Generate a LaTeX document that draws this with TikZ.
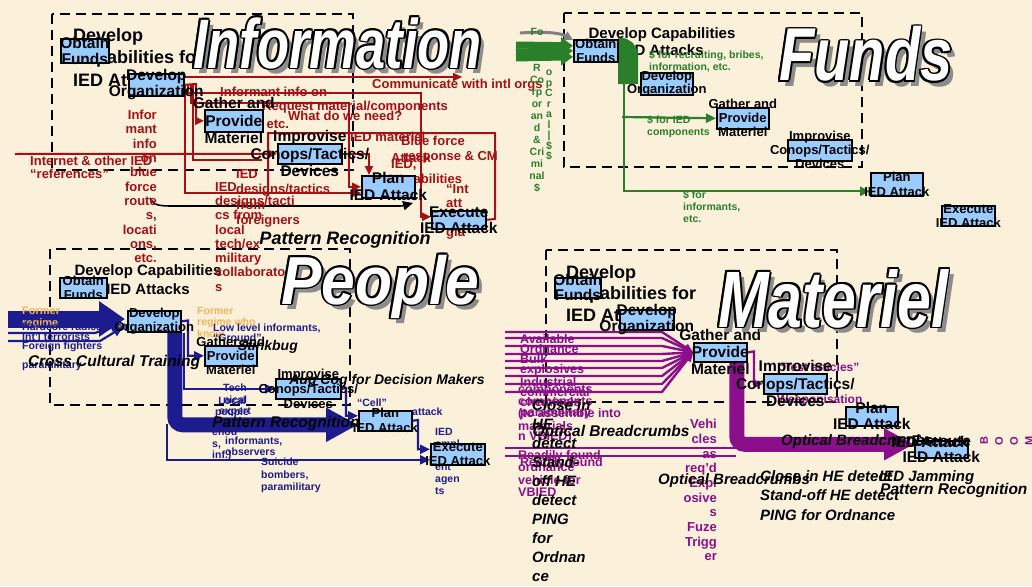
\documentclass[tikz,border=0pt]{standalone}
\usepackage{fontspec}
\setmainfont{Liberation Sans}
\usetikzlibrary{arrows.meta}
\definecolor{bgc}{HTML}{FBF1DA}
\definecolor{boxblue}{HTML}{99CCFF}
\definecolor{ired}{HTML}{A50F15}
\definecolor{fgreen}{HTML}{2A7F2A}
\definecolor{pnavy}{HTML}{1C1C8F}
\definecolor{mpurple}{HTML}{8B0F8B}
\definecolor{orng}{HTML}{F2B457}
\definecolor{shgray}{HTML}{8C8C8C}
\pgfdeclarelayer{back}
\pgfdeclarelayer{conn}
\pgfsetlayers{back,conn,main}
\tikzset{
  blk/.style={draw=black, line width=1.6pt, fill=boxblue, inner sep=0pt, anchor=north west},
  btxt/.style={align=center, inner sep=0pt, text=black},
  ttlfont/.style={font=\bfseries\itshape\fontsize{#1}{#1}\selectfont, inner sep=0pt},
  dashbox/.style={draw=black, line width=2.2pt, dash pattern=on 10pt off 6pt},
  hdr/.style={inner sep=0pt, text=black},
  lab/.style={inner sep=0pt, font=\bfseries\fontsize{#1}{#1}\selectfont},
  bi/.style={inner sep=0pt, text=black, font=\bfseries\itshape\fontsize{#1}{#1}\selectfont},
  rl/.style={draw=ired, line width=2pt},
  ra/.style={rl, -{Triangle[length=9pt,width=8pt]}},
  gl/.style={draw=fgreen, line width=2.2pt},
  ga/.style={gl, -{Triangle[length=10pt,width=9pt]}},
  nl/.style={draw=pnavy, line width=2.2pt},
  na/.style={nl, -{Triangle[length=10pt,width=9pt]}},
  ml/.style={draw=mpurple, line width=2.4pt},
  ma/.style={ml, -{Triangle[length=9pt,width=8pt]}},
}
\newcommand\bx[8]{%
  \node[blk, minimum width=#4pt, minimum height=#5pt] (#1) at (#2,#3) {};
  \node[btxt, font=\bfseries\fontsize{#6}{#7}\selectfont] (#1t) at (#1.center) {#8};}
\newcommand\ttl[6]{%
  \node[ttlfont={#4}, text=shgray, xscale=#5, anchor=base west] (#1s) at (#2+5,#3+5) {#6};
  \foreach \dx/\dy [count=\i] in {1.9/0,-1.9/0,0/1.9,0/-1.9,1.35/1.35,-1.35/1.35,1.35/-1.35,-1.35/-1.35}
    {\node[ttlfont={#4}, text=black, xscale=#5, anchor=base west] (#1o\i) at (#2+\dx,#3+\dy) {#6};}
  \node[ttlfont={#4}, text=white, xscale=#5, anchor=base west] (#1) at (#2,#3) {#6};}
\begin{document}
\begin{tikzpicture}[x=1pt,y=-1pt]
\begin{pgfonlayer}{back}
\fill[bgc] (0,0) rectangle (1032,586);
\end{pgfonlayer}
\useasboundingbox (0,0) rectangle (1032,586);

% ---------------- boxes ----------------
% Information
\bx{iOF}{60}{38}{48}{24}{15.5}{16}{Obtain\\Funds}
\bx{iDO}{128}{73}{55}{22}{15.5}{16}{Develop\\Organization}
\bx{iPM}{204}{109}{58}{22}{15.5}{17.5}{Gather and\\Provide\\Materiel}
\bx{iIC}{277}{143}{64}{20}{15.5}{17.5}{Improvise\\Conops/Tactics/\\Devices}
\bx{iPL}{361}{175}{53}{22}{15.5}{17}{Plan\\IED Attack}
\bx{iEX}{431}{210}{54}{18}{15.5}{16}{Execute\\IED Attack}
% Funds
\bx{fOF}{573}{39}{44}{22}{13}{14}{Obtain\\Funds}
\bx{fDO}{640}{72}{52}{22}{13}{13.5}{Develop\\Organization}
\bx{fPM}{716}{107}{52}{21}{13}{14}{Gather and\\Provide\\Materiel}
\bx{fIC}{787}{139}{64}{21}{13}{14}{Improvise\\Conops/Tactics/\\Devices}
\bx{fPL}{870}{172}{52}{23}{13}{15}{Plan\\IED Attack}
\bx{fEX}{941}{205}{53}{20}{13}{14}{Execute\\IED Attack}
% People
\bx{pOF}{59}{277}{47}{20}{13}{13.5}{Obtain\\Funds}
\bx{pDO}{127}{310}{53}{21}{13}{14}{Develop\\Organization}
\bx{pPM}{204}{345}{52}{20}{13}{14}{Gather and\\Provide\\Materiel}
\bx{pIC}{275}{378}{65}{20}{13}{15}{Improvise\\Conops/Tactics/\\Devices}
\bx{pPL}{358}{410}{53}{20}{13}{15}{Plan\\IED Attack}
\bx{pEX}{430}{443}{54}{21}{13}{13.5}{Execute\\IED Attack}
% Materiel
\bx{mOF}{554}{277}{46}{20}{15.5}{15}{Obtain\\Funds}
\bx{mDO}{619}{309}{54}{20}{15.5}{16}{Develop\\Organization}
\bx{mPM}{693}{342}{53}{19}{15.5}{17}{Gather and\\Provide\\Materiel}
\bx{mIC}{763}{373}{63}{20}{15.5}{17.5}{Improvise\\Conops/Tactics/\\Devices}
\bx{mPL}{845}{406}{52}{19}{15.5}{16}{Plan\\IED Attack}
\bx{mEX}{914}{440}{53}{17}{15.5}{16.5}{Execute\\IED Attack}
\node[btxt, font=\bfseries\fontsize{15.5}{16}\selectfont, anchor=west] (mEXdup) at (891,442) {IED Attack};

\begin{pgfonlayer}{conn}
% dashed frames
\draw[dashbox] (52,14) rectangle (353,170);
\draw[dashbox] (564,13) rectangle (862,167);
\draw[dashbox] (50,249) rectangle (350,405);
\draw[dashbox] (546,250) rectangle (837,402);
% headers
\node[hdr, anchor=north west, align=left, font=\bfseries\fontsize{18}{22.5}\selectfont] (hdrI) at (73,28) {Develop\\Capabilities for\\IED Attacks};
\node[hdr, align=center, font=\bfseries\fontsize{15}{17}\selectfont] (hdrF) at (662,42) {Develop Capabilities\\IED Attacks};
\node[hdr, align=center, font=\bfseries\fontsize{15}{19}\selectfont] (hdrP) at (148,280) {Develop Capabilities\\IED Attacks};
\node[hdr, anchor=north west, align=left, font=\bfseries\fontsize{18}{21.5}\selectfont] (hdrM) at (566,265) {Develop\\Capabilities for\\IED Attacks};

% ---------- Information (red) ----------
\coordinate (commEnd) at (462,77);
\coordinate (inetStart) at (15,154);
\draw[ra] ([yshift=-4pt]iDO.north east) -- (commEnd);
\draw[ra] (iDO.east) -- (196,84) |- (iPM.west);
\draw[ra] (188,84) |- (421,93) |- ([yshift=3pt]iEX.west);
\draw[ra] (191,84) |- (349,103) |- (iPL.west);
\draw[rl] (268,196) -- (268,133) -- (495,133) -- (495,219) -- (iEX.east);
\draw[ra] (inetStart) -- (iIC.west);
\draw[ra] (185,84) |- ([yshift=-6pt]iPL.west);
\draw[ra] (iIC.east) -| ([xshift=8pt]iPL.north west);
\draw[rl] (193,84) -- (193,160) -- (262,160);
% black brace arrow
\coordinate (braceStart) at (150,198);
\coordinate (braceEnd) at (413,203);
\draw[black, line width=1.6pt, -{Triangle[length=10pt,width=9pt]}] (braceStart) .. controls (154,206) and (160,206) .. (175,206) -- (395,206) .. controls (402,206) .. (braceEnd);

\node[lab=13, text=ired, anchor=west] (lComm) at (372,85) {Communicate with intl orgs};
\node[lab=13, text=ired, anchor=north west, align=left] (lInet) at (30,156) {Internet \& other IED\\“references”};
\node[lab=13, text=ired, anchor=north east, align=right, font=\bfseries\fontsize{13}{14.3}\selectfont] (lInfor) at (157,110) {Infor\\mant\\info\\on\\blue\\force\\route\\s,\\locati\\ons,\\etc.};
\node[lab=13, text=ired, anchor=west] (lInf2) at (220,92) {Informant info on};
\node[lab=13, text=ired, anchor=west] (lReq) at (262,107) {Request material/components};
\node[lab=13, text=ired, anchor=west] (lWhat) at (288,116) {What do we need?};
\node[lab=13, text=ired, anchor=west] (lEtc) at (252,125) {e, etc.};
\node[lab=13, text=ired, anchor=west] (lIEDm) at (350,137) {IED materiel};
\node[lab=13, text=ired, anchor=west] (lBlue) at (401,141) {Blue force};
\node[lab=13, text=ired, anchor=west] (lAtt) at (391,158) {Attack};
\node[lab=13, text=ired, anchor=west] (lResp) at (403,157) {response \& CM};
\node[lab=13, text=ired, anchor=north west, align=left, font=\bfseries\fontsize{13}{15}\selectfont] (lCap) at (391,159) {IED,\\capabilities};
\node[lab=13, text=ired, anchor=north west, align=left, font=\bfseries\fontsize{13}{14.5}\selectfont] (lInt) at (446,184) {“Int\\att\\ing\\gla};
\node[lab=13, text=ired, anchor=north west, align=left, font=\bfseries\fontsize{13}{15.5}\selectfont] (lForgn) at (236,169) {IED\\designs/tactics\\from\\foreigners};
\node[lab=13, text=ired, anchor=north west, align=left, font=\bfseries\fontsize{13}{14.3}\selectfont] (lLocal) at (215,182) {IED\\designs/tacti\\cs from\\local\\tech/ex\\military\\collaborator\\s};

% ---------- Funds (green) ----------
\coordinate (grayStart) at (520,33);
\draw[gray, line width=3pt, -{Triangle[length=9pt,width=9pt]}] (grayStart) .. controls (552,31) and (562,34) .. ([yshift=-1pt]fOF.north west);
\coordinate (gs1) at (516,45);
\coordinate (gs2) at (516,52);
\coordinate (gs3) at (516,58);
\draw[fgreen, line width=7pt, -{Triangle[length=12pt,width=16pt]}] (gs1) -- ([yshift=5pt]fOF.west);
\draw[fgreen, line width=7pt, -{Triangle[length=12pt,width=16pt]}] (gs2) -- (fOF.west);
\draw[fgreen, line width=7pt, -{Triangle[length=12pt,width=16pt]}] (gs3) -- ([yshift=-6pt]fOF.west);
\draw[fgreen, line width=20pt, rounded corners=9pt] ([yshift=3pt]fOF.east) -- (628,47) -- (628,84);
\draw[ga] ([xshift=5pt]fOF.south east) |- ([yshift=-7pt]fPL.west);
\draw[ga] (622,117) -- (fPM.west);
\node[lab=10.5, text=fgreen, anchor=north west, align=left, font=\bfseries\fontsize{10.5}{11.5}\selectfont] (lRecr) at (649,51) {\$ for recruiting, bribes,\\information, etc.};
\node[lab=10.5, text=fgreen, anchor=north west, align=left, font=\bfseries\fontsize{10.5}{12}\selectfont] (lIEDc) at (647,116) {\$ for IED\\components};
\node[lab=10.5, text=fgreen, anchor=north west, align=left, font=\bfseries\fontsize{10.5}{12}\selectfont] (lInfm) at (683,191) {\$ for\\informants,\\etc.};
\node[lab=10.5, text=fgreen, anchor=north, align=center, font=\bfseries\fontsize{10.5}{12}\selectfont] (lCrim) at (537,28) {Fo\\\\\\R\\Co\\rp\\or\\an\\d\\\&\\Cri\\mi\\nal\\\$};
\node[lab=10.5, text=fgreen, anchor=north, align=center, font=\bfseries\fontsize{10.5}{10.5}\selectfont] (lOp) at (549,70) {o\\p\\C\\r\\a\\l\\|\\\$\\\$};

% ---------- People (navy) ----------
\coordinate (nb0) at (8,319);
\coordinate (nb1) at (8,333);
\coordinate (nb2) at (8,341);
\draw[pnavy, line width=17pt, -{Triangle[length=26pt,width=34pt]}] (nb0) -- (125,319);
\draw[na] (nb1) -- (95,333) -- (121,324);
\draw[na] (nb2) -- (100,341) -- (123,327);
\draw[pnavy, line width=15pt, rounded corners=8pt, -{Triangle[length=32pt,width=32pt]}] ([xshift=20.5pt]pDO.south) |- ([yshift=-4pt]pPL.west);
\draw[na] (pDO.east) -- (188,320.5) |- (pPM.west);
\draw[na] ([xshift=29.5pt]pDO.south) |- (pIC.west);
\draw[na] (167,424) |- ([yshift=-5.5pt]pEX.west);
\draw[na] (pIC.east) -- (346,388) |- ([yshift=5pt]pPL.west);
\draw[na] (pPL.east) -- (418,420) |- ([yshift=5pt]pEX.west);
\node[lab=11, text=orng, anchor=north west, align=left, font=\bfseries\fontsize{11}{12}\selectfont] (lFR) at (22,307) {Former\\regime};
\node[lab=10.5, text=pnavy, anchor=north west, align=left, font=\bfseries\fontsize{10.5}{9.5}\selectfont] (lHard) at (22,323) {Hardcore radicals, etc.\\Int'l terrorists\\Foreign fighters\\\\paramilitary};
\node[lab=10.5, text=orng, anchor=north west, align=left, font=\bfseries\fontsize{10.5}{11.5}\selectfont] (lFR2) at (197,307) {Former\\regime who\\know};
\node[lab=10.5, text=pnavy, anchor=north west, align=left, font=\bfseries\fontsize{10.5}{10}\selectfont] (lLow) at (213,324) {Low level informants,\\“Ground”};
\node[lab=10.5, text=pnavy, align=center, anchor=north, font=\bfseries\fontsize{10.5}{11.5}\selectfont] (lTech) at (235,384) {Tech\\nical\\expert};
\node[lab=10.5, text=pnavy, align=center, anchor=north, font=\bfseries\fontsize{10.5}{11}\selectfont] (lLocP) at (232,397) {Local\\people};
\node[lab=10.5, text=pnavy, align=left, anchor=north west, font=\bfseries\fontsize{10.5}{11.5}\selectfont] (lEnou) at (212,430) {enou\\s,\\inf.)};
\node[lab=10.5, text=pnavy, align=left, anchor=north west, font=\bfseries\fontsize{10.5}{11}\selectfont] (lObs) at (225,437) {informants,\\observers};
\node[lab=10.5, text=pnavy, align=left, anchor=north west, font=\bfseries\fontsize{10.5}{12.5}\selectfont] (lSuic) at (261,458) {Suicide\\bombers,\\paramilitary};
\node[lab=10.5, text=pnavy] (lCell) at (372,403) {“Cell”};
\node[lab=10.5, text=pnavy, anchor=west] (lAtk) at (412,412) {attack};
\node[lab=10.5, text=pnavy, align=left, anchor=north west, font=\bfseries\fontsize{10.5}{11.8}\selectfont] (lAgen) at (435,428) {IED\\empl\\oym\\ent\\agen\\ts};

% ---------- Materiel (purple) ----------
\foreach \yy [count=\k] in {332,338,346,354,361,368,376,384,392}
  {\coordinate (mf\k) at (505,\yy); \draw[ma] (mf\k) -- (662,\yy) -- (mPM.west);}
\draw[mpurple, line width=15pt, rounded corners=8pt, -{Triangle[length=30pt,width=30pt]}] ([xshift=16.5pt]mPM.south) |- ([yshift=5pt]mEX.west);
\coordinate (ml1) at (505,448);
\coordinate (ml2) at (505,456);
\draw[ml] (ml1) -- (736,448);
\draw[ml] (ml2) -- (736,456);
\draw[ma] (mPM.east) -- (754,351.5) |- (mIC.west);
\node[lab=12.5, text=mpurple, align=left, anchor=north west, font=\bfseries\fontsize{12.5}{9}\selectfont] (lAvail) at (520,334) {Available\\Ordnance\\Bulk\\explosives\\Industrial\\commercial\\chemicals\\paramilitary};
\node[lab=12.5, text=mpurple, align=left, anchor=north west, font=\bfseries\fontsize{12.5}{9}\selectfont] (lComp) at (518,385) {components\\components\\(to assemble into\\materials\\n VBIED)};
\node[lab=13, text=mpurple, align=right, anchor=north east, font=\bfseries\fontsize{13}{14.7}\selectfont] (lVeh) at (717,419) {Vehi\\cles\\as\\req'd\\Expl\\osive\\s\\Fuze\\Trigg\\er};
\node[lab=12.5, text=mpurple, align=left, anchor=north west, font=\bfseries\fontsize{12.5}{12.5}\selectfont] (lRead) at (518,450) {Readily found\\ordnance\\vehicle for\\VBIED};
\node[lab=12.5, text=mpurple, anchor=west] (lRead2) at (520,463) {Readily found};
\node[lab=12, text=mpurple, anchor=west] (lTest) at (778,367) {“Test articles”};
\node[lab=12, text=mpurple, anchor=west] (lWeap) at (777,400) {Weaponisation};
\foreach \xx/\ch [count=\k] in {984/B,999/O,1014/O,1029/M}
  {\node[lab=11, text=mpurple, rotate=90] (boom\k) at (\xx,441) {\ch};}
\end{pgfonlayer}

% ---------- black italic labels ----------
\node[bi=18] (iPat) at (345,240) {Pattern Recognition};
\node[bi=15.5] (pCross) at (114,362) {Cross Cultural Training};
\node[bi=14, anchor=east] (pStink) at (298,347) {Stinkbug};
\node[bi=14] (pAug) at (387,381) {Aug Cog for Decision Makers};
\node[bi=15.5] (pPat) at (286,423) {Pattern Recognition};
\node[bi=15.5] (mOpt1) at (611,432) {Optical Breadcrumbs};
\node[bi=15, anchor=west] (mOpt2) at (658,481) {Optical Breadcrumbs};
\node[bi=15, anchor=west] (mOpt3) at (781,442) {Optical Breadcrumbs};
\node[bi=15, anchor=north west, align=left, font=\bfseries\itshape\fontsize{15}{19}\selectfont] (mCol) at (532,399) {Close in\\HE\\detect\\Stand-\\off HE\\detect\\PING\\for\\Ordnan\\ce};
\node[bi=15, anchor=north west, align=left, font=\bfseries\itshape\fontsize{15}{19.5}\selectfont] (mWide) at (760,470) {Close in HE detect\\Stand-off HE detect\\PING for Ordnance};
\node[bi=15, anchor=west] (mJam) at (879,478) {IED Jamming};
\node[bi=15.5, anchor=west] (mPat) at (880,490) {Pattern Recognition};

% ---------- titles ----------
\ttl{tI}{193}{68}{70}{0.75}{Information}
\ttl{tF}{779}{81}{75}{0.77}{Funds}
\ttl{tP}{281}{304}{68}{0.89}{People}
\ttl{tM}{718}{327}{80}{0.76}{Materiel}
\end{tikzpicture}
\end{document}
